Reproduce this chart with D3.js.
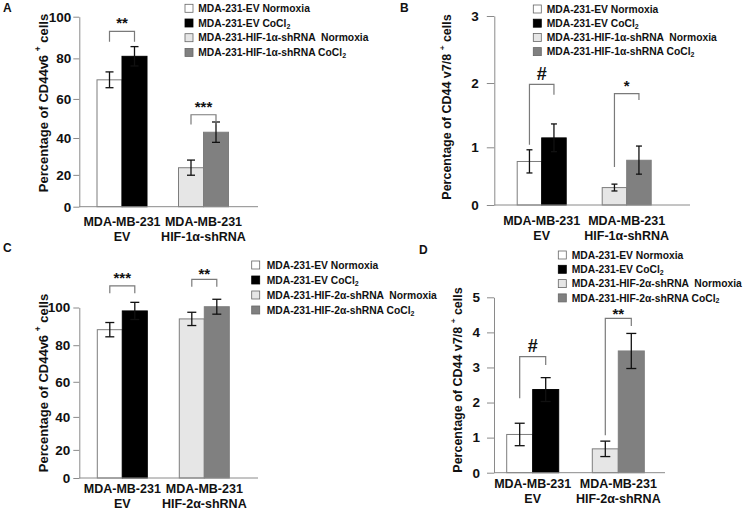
<!DOCTYPE html>
<html><head><meta charset="utf-8">
<script src="https://cdn.jsdelivr.net/npm/d3@7"></script>
<style>
html,body{margin:0;padding:0;background:#fff;}
svg{display:block;font-family:"Liberation Sans",Arial,Helvetica,sans-serif;}
text{white-space:pre;}
</style></head>
<body>
<svg id="chart" width="747" height="512"></svg>
<script>
// ---------- DATA ----------
const legendHIF1 = ["MDA-231-EV Normoxia", "MDA-231-EV CoCl2", "MDA-231-HIF-1α-shRNA  Normoxia", "MDA-231-HIF-1α-shRNA CoCl2"];
const legendHIF2 = ["MDA-231-EV Normoxia", "MDA-231-EV CoCl2", "MDA-231-HIF-2α-shRNA  Normoxia", "MDA-231-HIF-2α-shRNA CoCl2"];
const groupsHIF1 = [["MDA-MB-231", "EV"], ["MDA-MB-231", "HIF-1α-shRNA"]];
const groupsHIF2 = [["MDA-MB-231", "EV"], ["MDA-MB-231", "HIF-2α-shRNA"]];

const titleV6 = ["Percentage of CD44v6 ", "+", " cells"];
const titleV78 = ["Percentage of CD44 v7/8 ", "+", " cells"];

// Panel A: CD44v6, HIF-1α
const meanA = [69.5, 81, 24, 43];
const errA  = [3.9, 4.7, 4.2, 5.3];
const ticksA = [0, 20, 40, 60, 80, 100];
const sigA = ["**", "***"];
const sigTopA = [93, 52];
const sigLeftA = [88, 47];
const sigRightA = [88, 47];

// Panel B: CD44 v7/8, HIF-1α
const meanB = [0.77, 1.15, 0.33, 0.79];
const errB  = [0.19, 0.22, 0.06, 0.23];
const ticksB = [0, 1, 2, 3];
const sigB = ["#", "*"];
const sigTopB = [1.98, 1.84];
const sigLeftB = [1.04, 0.68];
const sigRightB = [1.82, 1.74];

// Panel C: CD44v6, HIF-2α
const meanC = [88.3, 98.2, 94, 100.4];
const errC  = [3.8, 4.5, 3.5, 3.9];
const ticksC = [0, 20, 40, 60, 80, 100];
const sigC = ["***", "**"];
const sigTopC = [111.3, 114.6];
const sigLeftC = [107.4, 110.8];
const sigRightC = [107.4, 110.8];

// Panel D: CD44 v7/8, HIF-2α
const meanD = [1.09, 2.37, 0.68, 3.47];
const errD  = [0.32, 0.34, 0.22, 0.5];
const ticksD = [0, 1, 2, 3, 4, 5];
const sigD = ["#", "**"];
const sigTopD = [3.31, 4.40];
const sigLeftD = [2.12, 1.07];
const sigRightD = [3.07, 4.18];

// ---------- STYLE / LAYOUT ----------
const fills = ["#ffffff", "#000000", "#e6e6e6", "#808080"];
const axisColor = "#8a8a8a";
const bracketColor = "#7a7a7a";

const panels = [
  {id:"A", mean:meanA, err:errA, ticks:ticksA, sig:sigA, sigTop:sigTopA, sigL:sigLeftA, sigR:sigRightA, sigDy:[-3,-3],
   legend:legendHIF1, groups:groupsHIF1, title:titleV6, titleSize:13,
   axisX:79.3, y0:206.7, yTop:16.7, exp:1.11, centers:[122,203.5], bw:25, xEnd:258,
   tickLen:6, tickPad:2, lab:[225.5,240.5], tX:43, tY:103,
   lg:{sx:185, tx:198.3, y0:8.3, dy:14.7}, pl:{x:3,y:12}, cap:8},
  {id:"B", mean:meanB, err:errB, ticks:ticksB, sig:sigB, sigTop:sigTopB, sigL:sigLeftB, sigR:sigRightB, sigDy:[-4.3,-3],
   legend:legendHIF1, groups:groupsHIF1, title:titleV78, titleSize:12.5,
   axisX:494.3, y0:205, yTop:16, exp:1.08, centers:[541.7,626.7], bw:24.5, xEnd:690,
   tickLen:7.5, tickPad:8, lab:[224.5,239.5], tX:446.7, tY:107,
   lg:{sx:533.3, tx:546.7, y0:9, dy:14.2}, pl:{x:400,y:12}, cap:6},
  {id:"C", mean:meanC, err:errC, ticks:ticksC, sig:sigC, sigTop:sigTopC, sigL:sigLeftC, sigR:sigRightC, sigDy:[-3,0],
   legend:legendHIF2, groups:groupsHIF2, title:titleV6, titleSize:13,
   axisX:79.3, y0:478, yTop:307.5, exp:1.12, centers:[122.3,204.3], bw:25, xEnd:258,
   tickLen:6, tickPad:3, lab:[493,508], tX:43.3, tY:383,
   lg:{sx:251.7, tx:266.7, y0:265, dy:15}, pl:{x:3,y:252}, cap:9},
  {id:"D", mean:meanD, err:errD, ticks:ticksD, sig:sigD, sigTop:sigTopD, sigL:sigLeftD, sigR:sigRightD, sigDy:[-4.7,0.3],
   legend:legendHIF2, groups:groupsHIF2, title:titleV78, titleSize:12.5,
   axisX:494, y0:472.7, yTop:297.3, exp:1, centers:[532.7,618.3], bw:26, xEnd:665,
   tickLen:7, tickPad:7, lab:[488,503], tX:458.3, tY:380,
   lg:{sx:558.3, tx:571.7, y0:255, dy:14.3}, pl:{x:419,y:254}, cap:10}
];

const svg = d3.select("#chart");

function addSubText(sel, name) {
  // render trailing "CoCl2" with subscript 2
  if (name.endsWith("CoCl2")) {
    sel.append("tspan").text(name.slice(0, -1));
    sel.append("tspan").attr("font-size", "7px").attr("dy", 1.8).text("2");
  } else {
    sel.text(name);
  }
}

panels.forEach(p => {
  const g = svg.append("g");
  const maxV = p.ticks[p.ticks.length - 1];
  const y = d3.scalePow().exponent(p.exp).domain([0, maxV]).range([p.y0, p.yTop]);
  const xGroup = d3.scalePoint().domain(d3.range(p.groups.length)).range(p.centers);
  const xSub = d3.scaleBand().domain([0, 1]).range([-p.bw, p.bw]).padding(0);

  const bars = p.mean.map((m, i) => ({m, e: p.err[i], g: Math.floor(i / 2), s: i % 2, i}));

  // bars
  g.selectAll("rect.bar").data(bars).join("rect")
    .attr("class", "bar")
    .attr("x", d => xGroup(d.g) + xSub(d.s))
    .attr("width", xSub.bandwidth())
    .attr("y", d => y(d.m))
    .attr("height", d => y(0) - y(d.m))
    .attr("fill", d => fills[d.i])
    .attr("stroke", d => d.i === 1 ? "#000" : "#7d7d7d")
    .attr("stroke-width", 1);

  // error bars
  const eb = g.selectAll("g.eb").data(bars).join("g").attr("class", "eb")
    .attr("transform", d => `translate(${xGroup(d.g) + xSub(d.s) + xSub.bandwidth() / 2},0)`);
  eb.append("line").attr("x1", 0).attr("x2", 0)
    .attr("y1", d => y(d.m - d.e)).attr("y2", d => y(d.m + d.e))
    .attr("stroke", "#111").attr("stroke-width", 1.3);
  eb.append("line").attr("x1", -p.cap / 2).attr("x2", p.cap / 2)
    .attr("y1", d => y(d.m + d.e)).attr("y2", d => y(d.m + d.e))
    .attr("stroke", "#111").attr("stroke-width", 1.3);
  eb.append("line").attr("x1", -p.cap / 2).attr("x2", p.cap / 2)
    .attr("y1", d => y(d.m - d.e)).attr("y2", d => y(d.m - d.e))
    .attr("stroke", "#111").attr("stroke-width", 1.3);

  // y axis
  const ax = g.append("g").attr("transform", `translate(${p.axisX},0)`)
    .call(d3.axisLeft(y).tickValues(p.ticks).tickFormat(d3.format("d"))
      .tickSize(p.tickLen).tickSizeOuter(0).tickPadding(p.tickPad));
  ax.select(".domain").attr("stroke", axisColor).attr("stroke-width", 1);
  ax.selectAll(".tick line").attr("stroke", axisColor).attr("stroke-width", 1);
  ax.selectAll(".tick text").attr("fill", "#111").attr("font-size", 13.5)
    .attr("font-weight", "bold").attr("font-family", "Liberation Sans, Arial, sans-serif");

  // x baseline
  g.append("line").attr("x1", p.axisX).attr("x2", p.xEnd)
    .attr("y1", y(0)).attr("y2", y(0))
    .attr("stroke", axisColor).attr("stroke-width", 1);

  // category labels
  p.groups.forEach((lines, gi) => {
    lines.forEach((t, li) => {
      g.append("text").attr("x", xGroup(gi)).attr("y", p.lab[li])
        .attr("text-anchor", "middle").attr("font-size", 12.5).attr("font-weight", "bold")
        .attr("fill", "#111").text(t);
    });
  });

  // y title
  const tt = g.append("text")
    .attr("transform", `translate(${p.tX},${p.tY}) rotate(-90)`)
    .attr("text-anchor", "middle").attr("dominant-baseline", "central")
    .attr("font-size", p.titleSize).attr("font-weight", "bold").attr("fill", "#111");
  tt.append("tspan").text(p.title[0]);
  tt.append("tspan").attr("font-size", p.titleSize * 0.65).attr("dy", -5).text(p.title[1]);
  tt.append("tspan").attr("dy", 5).text(p.title[2]);

  // significance brackets
  p.sig.forEach((s, k) => {
    const xl = xGroup(k) + xSub(0) + xSub.bandwidth() / 2;
    const xr = xGroup(k) + xSub(1) + xSub.bandwidth() / 2;
    g.append("path")
      .attr("d", `M${xl},${y(p.sigL[k])}V${y(p.sigTop[k])}H${xr}V${y(p.sigR[k])}`)
      .attr("fill", "none").attr("stroke", bracketColor).attr("stroke-width", 1.2);
    const isHash = s === "#";
    g.append("text").attr("x", (xl + xr) / 2)
      .attr("y", y(p.sigTop[k]) + p.sigDy[k])
      .attr("text-anchor", "middle")
      .attr("font-size", isHash ? 18 : 15).attr("font-weight", "bold")
      .attr("fill", "#111").text(s);
  });

  // legend
  p.legend.forEach((name, i) => {
    const cy = p.lg.y0 + i * p.lg.dy;
    g.append("rect").attr("x", p.lg.sx).attr("y", cy - 4).attr("width", 8).attr("height", 8)
      .attr("fill", fills[i]).attr("stroke", i === 1 ? "#000" : "#666").attr("stroke-width", 0.8);
    const t = g.append("text").attr("x", p.lg.tx).attr("y", cy + 3.7)
      .attr("font-size", 10.3).attr("font-weight", "bold").attr("fill", "#111");
    addSubText(t, name);
  });

  // panel letter
  g.append("text").attr("x", p.pl.x).attr("y", p.pl.y)
    .attr("font-size", 12).attr("font-weight", "bold").attr("fill", "#111").text(p.id);
});
</script>
</body></html>
